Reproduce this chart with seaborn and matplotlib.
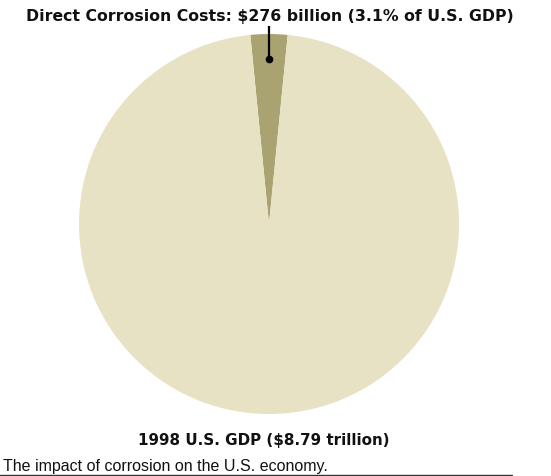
import matplotlib
matplotlib.use("Agg")
import matplotlib.pyplot as plt
import seaborn as sns
import numpy as np

sns.set_theme(style="white")
plt.rcParams['font.family'] = ['DejaVu Sans']

categories = ["Direct Corrosion Costs", "Rest of 1998 U.S. GDP"]
values_billion = [276, 8514]
colors = ["#A9A271", "#E8E2C4"]
title_text = "Direct Corrosion Costs: $276 billion (3.1% of U.S. GDP)"
bottom_text = "1998 U.S. GDP ($8.79 trillion)"
caption_text = "The impact of corrosion on the U.S. economy."

W, H = 551, 476
fig = plt.figure(figsize=(W / 100, H / 100), dpi=100)
cx, cy, r = 269, 224, 190
ax = fig.add_axes([(cx - r) / W, 1 - (cy + r) / H, 2 * r / W, 2 * r / H])

share = values_billion[0] / sum(values_billion)
start = 90 + share * 360 / 2
ax.pie(values_billion, colors=colors, startangle=start, counterclock=False,
       wedgeprops=dict(linewidth=0), radius=1.0)
ax.set_xlim(-1, 1)
ax.set_ylim(-1, 1)
ax.set_aspect("equal")
ax.axis("off")

# leader line from title into the small slice
ax.plot([0, 0], [0.87, 1.04], color="black", lw=1.6, clip_on=False, solid_capstyle="butt")
ax.plot([0], [0.87], marker="o", color="black", ms=4.5, clip_on=False)

fig.text(270 / W, 1 - 17 / H, title_text, ha="center", va="center",
         fontsize=11.3, fontweight="bold", color="#111111")
fig.text(264 / W, 1 - 441 / H, bottom_text, ha="center", va="center",
         fontsize=10.9, fontweight="bold", color="#111111")
fig.text(3 / W, 1 - 466 / H, caption_text, ha="left", va="center",
         fontsize=11.5, color="#111111",
         family=['Liberation Sans Narrow', 'Liberation Sans', 'DejaVu Sans'])
fig.add_artist(plt.Line2D([0, 512 / W], [1 - 475 / H, 1 - 475 / H],
                          color="#333333", lw=1.0, transform=fig.transFigure))

fig.savefig("out.png", dpi=100)
